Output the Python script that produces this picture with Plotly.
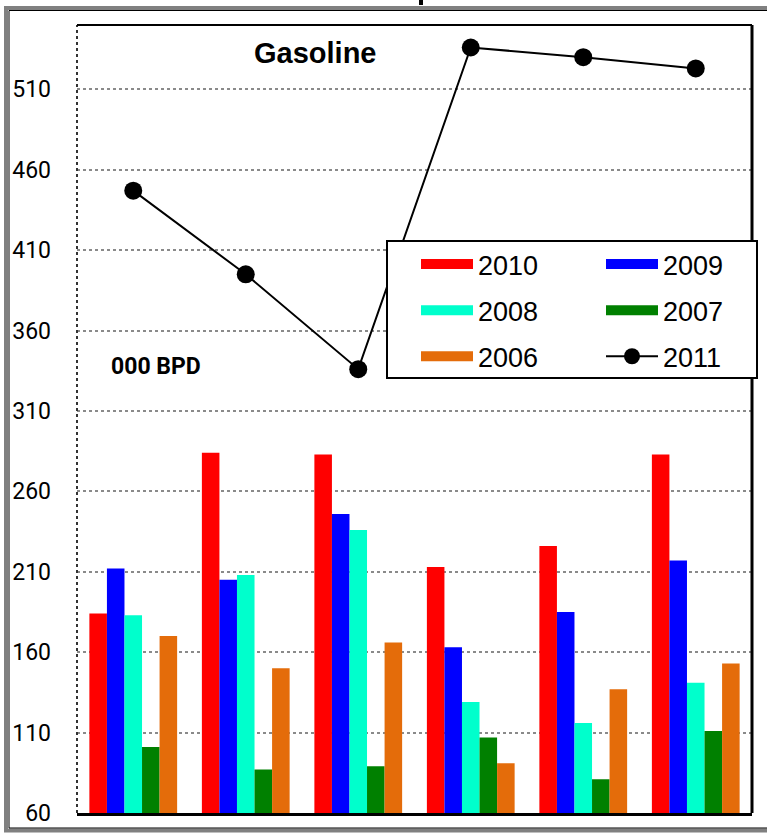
import plotly.graph_objects as go

categories = ["A", "B", "C", "D", "E", "F"]
v2010 = [184, 284, 283, 213, 226, 283]
v2009 = [212, 205, 246, 163, 185, 217]
v2008 = [183, 208, 236, 129, 116, 141]
v2007 = [101, 87, 89, 107, 81, 111]
v2006 = [170, 150, 166, 91, 137, 153]
v2011 = [447, 395, 336, 536, 530, 523]
y_ticks = [60, 110, 160, 210, 260, 310, 360, 410, 460, 510]

bar_series = [
    ("2010", v2010, "#FF0000"),
    ("2009", v2009, "#0000FF"),
    ("2008", v2008, "#00FFCC"),
    ("2007", v2007, "#008000"),
    ("2006", v2006, "#E46C0A"),
]

fig = go.Figure()
for name, vals, col in bar_series:
    fig.add_trace(go.Bar(x=categories, y=vals, name=name, marker=dict(color=col, line=dict(width=0)),
                         showlegend=False))
fig.add_trace(go.Scatter(x=categories, y=v2011, name="2011", mode="lines+markers",
                         line=dict(color="black", width=2),
                         marker=dict(color="black", size=18), showlegend=False))

# legend entries (wide swatches), two columns as in the original
col1 = ["2010", "2008", "2006"]
for name, vals, col in bar_series:
    fig.add_trace(go.Scatter(x=[None], y=[None], name=name, mode="lines",
                             line=dict(color=col, width=15), showlegend=True,
                             legendgroup=name, legend="legend" if name in col1 else "legend2"))
fig.add_trace(go.Scatter(x=[None], y=[None], name="2011", mode="lines+markers",
                         line=dict(color="black", width=2), legendgroup="2011",
                         marker=dict(color="black", size=18), showlegend=True, legend="legend2"))

L, R, T, B = 77, 15, 25, 20
W, H = 767, 833
pw, ph = W - L - R, H - T - B
def px(x):
    return (x - L) / pw
def py(y):
    return (H - B - y) / ph

legend_common = dict(xanchor="left", yanchor="top", orientation="v",
                     bordercolor="black", borderwidth=0, bgcolor="rgba(0,0,0,0)",
                     font=dict(family="Liberation Sans, Arial", size=27, color="black"),
                     itemwidth=52, tracegroupgap=8, traceorder="grouped")

fig.update_layout(
    width=W, height=H,
    margin=dict(l=L, r=R, t=T, b=B, pad=0, autoexpand=False),
    paper_bgcolor="white", plot_bgcolor="white",
    barmode="group", bargap=0.22, bargroupgap=0,
    font=dict(family="Liberation Sans, Arial", color="black"),
    xaxis=dict(range=[-0.5, 5.5], showticklabels=False, showgrid=False, zeroline=False,
               showline=True, linecolor="black", linewidth=3, ticks="", automargin=False),
    yaxis=dict(range=[60, 550], tickvals=y_ticks, ticktext=[str(v) for v in y_ticks],
               showgrid=True, gridcolor="#8a8a8a", gridwidth=2, griddash="dot",
               zeroline=False, showline=False, ticks="", ticklabelstandoff=25, automargin=False,
               tickfont=dict(family="Roboto", size=23, color="black")),
    legend=dict(x=px(416), y=py(240), **legend_common),
    legend2=dict(x=px(601), y=py(240), **legend_common),
    showlegend=True,
)

shapes = [
    # left dotted axis line
    dict(type="line", xref="paper", yref="paper", x0=0, x1=0, y0=0, y1=1,
         line=dict(color="#333333", width=2, dash="dot")),
    # top and right borders
    dict(type="line", xref="paper", yref="paper", x0=0, x1=1, y0=1, y1=1,
         line=dict(color="black", width=2)),
    dict(type="line", xref="paper", yref="paper", x0=1, x1=1, y0=0, y1=1,
         line=dict(color="black", width=3)),
    # outer frame
    dict(type="rect", xref="paper", yref="paper", x0=px(6), x1=px(800), y0=py(830.5), y1=py(8),
         line=dict(color="#808080", width=4), fillcolor="rgba(0,0,0,0)", layer="below"),
    dict(type="rect", xref="paper", yref="paper", x0=px(9), x1=px(800), y0=py(828), y1=py(10.5),
         line=dict(color="black", width=1), fillcolor="rgba(0,0,0,0)", layer="below"),
    # fragment of cut-off title
    dict(type="line", xref="paper", yref="paper", x0=px(421), x1=px(421), y0=py(5), y1=py(-2),
         line=dict(color="black", width=4)),
    # legend box
    dict(type="rect", xref="paper", yref="paper", x0=px(387), x1=px(757), y0=py(378), y1=py(241),
         line=dict(color="black", width=2), fillcolor="white", layer="above"),
]
fig.update_layout(shapes=shapes)

fig.add_annotation(x=px(315), y=py(53), xref="paper", yref="paper", text="<b>Gasoline</b>",
                   xanchor="center", yanchor="middle",
                   showarrow=False, font=dict(family="Liberation Sans, Arial", size=29, color="black"))
fig.add_annotation(x=px(109), y=py(366), xref="paper", yref="paper", text="<b>000 BPD</b>",
                   xanchor="left", yanchor="middle",
                   showarrow=False, font=dict(family="Roboto", size=23, color="black"))

fig.write_html("out.html", config={"displayModeBar": False},
               post_script="document.body.style.margin='0';")
